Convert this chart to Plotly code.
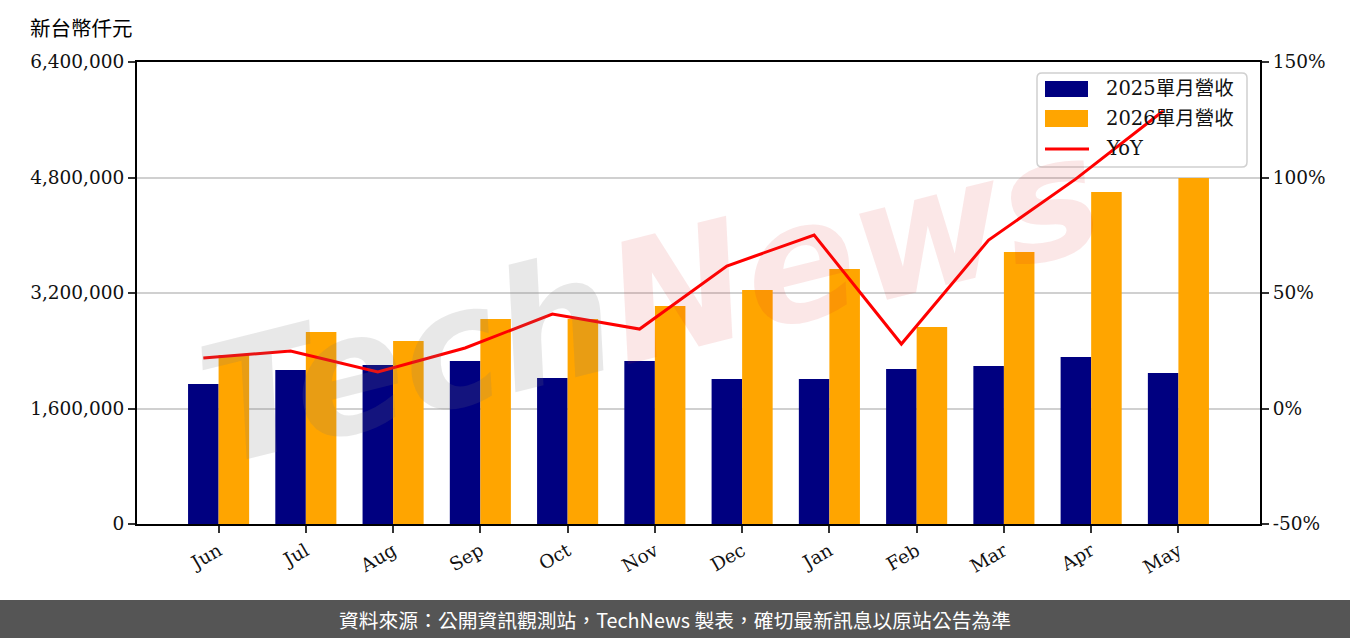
import plotly.graph_objects as go

months = ["Jun", "Jul", "Aug", "Sep", "Oct", "Nov", "Dec", "Jan", "Feb", "Mar", "Apr", "May"]
rev_2025 = [1939000, 2133000, 2203000, 2258000, 2023000, 2258000, 2009000, 2009000, 2147000, 2189000, 2313000, 2092000]
rev_2026 = [2341000, 2660000, 2535000, 2840000, 2840000, 3020000, 3242000, 3532000, 2729000, 3768000, 4599000, 4793000]
yoy = [21.9, 24.9, 15.8, 26.2, 40.9, 34.4, 61.7, 75.1, 27.9, 72.9, 99.4, 128.8]

left_ticks = [0, 1600000, 3200000, 4800000, 6400000]
right_ticks = [-50, 0, 50, 100, 150]

legend_names = ["2025單月營收", "2026單月營收", "YoY"]
colors = ["#000080", "#FFA500", "#FF0000"]

idx = list(range(len(months)))
line_x = [i - 0.175 for i in idx]

SERIF = "DejaVu Serif, Noto Sans CJK TC"
CJK = "Noto Sans CJK TC"
FS = 18.5

W, H = 1350, 638
L, R, T, B = 137, 90, 62, 114
PW, PH = W - L - R, H - T - B


def px(x):
    return (x - L) / PW


def py(y):
    return (H - B - y) / PH


fig = go.Figure()
fig.add_trace(go.Bar(x=idx, y=rev_2025, width=0.35, offset=-0.35, name=legend_names[0],
                     marker=dict(color=colors[0], line=dict(width=0)), showlegend=False))
fig.add_trace(go.Bar(x=idx, y=rev_2026, width=0.35, offset=0, name=legend_names[1],
                     marker=dict(color=colors[1], line=dict(width=0)), showlegend=False))
fig.add_trace(go.Scatter(x=line_x, y=yoy, mode="lines", name=legend_names[2], yaxis="y2",
                         line=dict(color=colors[2], width=3), showlegend=False))

axis_common = dict(showline=True, linecolor="black", linewidth=2,
                   ticks="outside", ticklen=7, tickwidth=2, tickcolor="#333",
                   zeroline=False, tickfont=dict(family=SERIF, size=FS, color="#111"))

fig.update_layout(
    width=W, height=H,
    margin=dict(l=L, r=R, t=T, b=B),
    paper_bgcolor="white", plot_bgcolor="white",
    barmode="overlay",
    font=dict(family=SERIF, size=FS, color="#000"),
    xaxis=dict(range=[-0.935, 11.935], tickvals=idx, ticktext=months, tickangle=-30,
               mirror=True, showgrid=False, **axis_common),
    yaxis=dict(range=[0, 6400000], tickvals=left_ticks,
               ticktext=[f"{v:,}" for v in left_ticks],
               showgrid=True, gridcolor="#d0d0d0", gridwidth=2, **axis_common),
    yaxis2=dict(range=[-50, 150], tickvals=right_ticks,
                ticktext=[f"{v}%" for v in right_ticks],
                overlaying="y", side="right", showgrid=False, **axis_common),
    showlegend=False,
)

# Watermark
fig.add_annotation(
    xref="paper", yref="paper", x=px(650), y=py(300), xanchor="center", yanchor="middle",
    showarrow=False,
    text="<b><i><span style='color:rgba(120,120,120,0.17)'>Tech</span>"
         "<span style='color:rgba(220,40,40,0.11)'>News</span></i></b>",
    font=dict(family="DejaVu Sans", size=165), textangle=-14,
)

# Custom legend (box with rounded corners), drawn beneath the traces
x0, x1, y0, y1 = px(1037), px(1247), py(167), py(73)
rx, ry = 5 / PW, 5 / PH
path = (f"M {x0+rx},{y0} L {x1-rx},{y0} Q {x1},{y0} {x1},{y0+ry} "
        f"L {x1},{y1-ry} Q {x1},{y1} {x1-rx},{y1} L {x0+rx},{y1} Q {x0},{y1} {x0},{y1-ry} "
        f"L {x0},{y0+ry} Q {x0},{y0} {x0+rx},{y0} Z")
fig.add_shape(type="path", path=path, xref="paper", yref="paper",
              fillcolor="rgba(255,255,255,0.8)", line=dict(color="#d0d0d0", width=1.5),
              layer="below")
fig.add_shape(type="rect", xref="paper", yref="paper", x0=px(1045), x1=px(1088),
              y0=py(97), y1=py(81), fillcolor=colors[0], line=dict(width=0), layer="below")
fig.add_shape(type="rect", xref="paper", yref="paper", x0=px(1045), x1=px(1088),
              y0=py(127), y1=py(110), fillcolor=colors[1], line=dict(width=0), layer="below")
fig.add_shape(type="line", xref="paper", yref="paper", x0=px(1045), x1=px(1089),
              y0=py(149), y1=py(149), line=dict(color=colors[2], width=3), layer="below")
for name, yy in zip(legend_names, [89, 118, 148]):
    fig.add_annotation(xref="paper", yref="paper", x=px(1104), y=py(yy), xanchor="left",
                       yanchor="middle", showarrow=False, text=name,
                       font=dict(family=SERIF, size=19.5, color="#111"))

# Unit label
fig.add_annotation(xref="paper", yref="paper", x=px(81), y=py(27), xanchor="center",
                   yanchor="middle", showarrow=False,
                   text="新台幣仟元", font=dict(family=CJK, size=20.5, color="#000"))

# Footer band
fig.add_shape(type="rect", xref="paper", yref="paper", x0=px(-10), x1=px(1360),
              y0=py(645), y1=py(600), fillcolor="#555555", line=dict(width=0), layer="above")
fig.add_annotation(xref="paper", yref="paper", x=px(675), y=py(619), xanchor="center",
                   yanchor="middle", showarrow=False,
                   text="資料來源：公開資訊觀測站，TechNews 製表，確切最新訊息以原站公告為準",
                   font=dict(family=CJK, size=19.8, color="white"))

fig.write_html("out.html")
